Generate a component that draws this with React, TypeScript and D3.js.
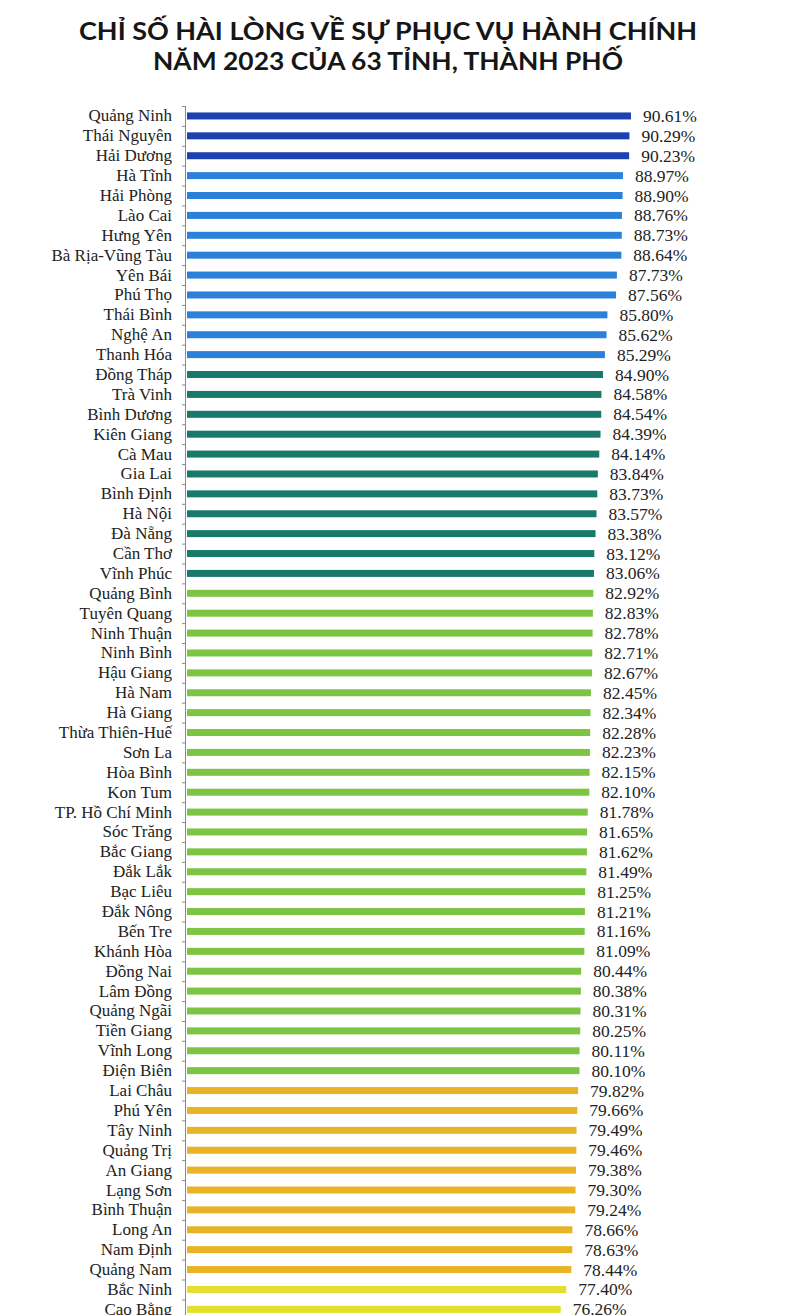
import React, { useRef, useEffect } from 'react';
import * as d3 from 'd3';

const provinces: string[] = [
  'Quảng Ninh', 'Thái Nguyên', 'Hải Dương', 'Hà Tĩnh', 'Hải Phòng', 'Lào Cai', 'Hưng Yên',
  'Bà Rịa-Vũng Tàu', 'Yên Bái', 'Phú Thọ', 'Thái Bình', 'Nghệ An', 'Thanh Hóa', 'Đồng Tháp',
  'Trà Vinh', 'Bình Dương', 'Kiên Giang', 'Cà Mau', 'Gia Lai', 'Bình Định', 'Hà Nội',
  'Đà Nẵng', 'Cần Thơ', 'Vĩnh Phúc', 'Quảng Bình', 'Tuyên Quang', 'Ninh Thuận', 'Ninh Bình',
  'Hậu Giang', 'Hà Nam', 'Hà Giang', 'Thừa Thiên-Huế', 'Sơn La', 'Hòa Bình', 'Kon Tum',
  'TP. Hồ Chí Minh', 'Sóc Trăng', 'Bắc Giang', 'Đắk Lắk', 'Bạc Liêu', 'Đắk Nông', 'Bến Tre',
  'Khánh Hòa', 'Đồng Nai', 'Lâm Đồng', 'Quảng Ngãi', 'Tiền Giang', 'Vĩnh Long', 'Điện Biên',
  'Lai Châu', 'Phú Yên', 'Tây Ninh', 'Quảng Trị', 'An Giang', 'Lạng Sơn', 'Bình Thuận',
  'Long An', 'Nam Định', 'Quảng Nam', 'Bắc Ninh', 'Cao Bằng',
];

const scores: number[] = [
  90.61, 90.29, 90.23, 88.97, 88.9, 88.76, 88.73, 88.64, 87.73, 87.56, 85.8, 85.62, 85.29,
  84.9, 84.58, 84.54, 84.39, 84.14, 83.84, 83.73, 83.57, 83.38, 83.12, 83.06, 82.92, 82.83,
  82.78, 82.71, 82.67, 82.45, 82.34, 82.28, 82.23, 82.15, 82.1, 81.78, 81.65, 81.62, 81.49,
  81.25, 81.21, 81.16, 81.09, 80.44, 80.38, 80.31, 80.25, 80.11, 80.1, 79.82, 79.66, 79.49,
  79.46, 79.38, 79.3, 79.24, 78.66, 78.63, 78.44, 77.4, 76.26,
];

// colour bands by score
const tierBreaks: number[] = [78, 80, 83, 85, 90];
const tierColors: string[] = ['#e3df2c', '#e8b324', '#7dc443', '#187a6b', '#2b80d9', '#1c41b0'];

const titleLines: string[] = [
  'CHỈ SỐ HÀI LÒNG VỀ SỰ PHỤC VỤ HÀNH CHÍNH',
  'NĂM 2023 CỦA 63 TỈNH, THÀNH PHỐ',
];

const App: React.FC = () => {
  const svgRef = useRef<SVGSVGElement | null>(null);

  useEffect(() => {
    const width = 800;
    const height = 1315;
    const x0 = 187;
    const top = 106;
    const step = 19.89;

    const svg = d3.select(svgRef.current);
    svg.selectAll('*').remove();
    svg.attr('width', width).attr('height', height);

    svg.append('rect').attr('width', width).attr('height', height).attr('fill', '#fff');

    const data = provinces.map((name, i) => ({ name, value: scores[i] }));

    const x = d3.scaleLinear().domain([0, 100]).range([x0, x0 + 490]);
    const y = d3
      .scaleBand()
      .domain(provinces)
      .range([top, top + step * provinces.length])
      .paddingInner(0);
    const color = d3.scaleThreshold<number, string>().domain(tierBreaks).range(tierColors);

    // title
    svg
      .selectAll('text.title')
      .data(titleLines)
      .enter()
      .append('text')
      .attr('class', 'title')
      .attr('x', 388)
      .attr('y', (d, i) => 40 + i * 29.5)
      .attr('text-anchor', 'middle')
      .attr('textLength', (d, i) => (i === 0 ? 618 : 470))
      .attr('lengthAdjust', 'spacingAndGlyphs')
      .style('font-family', 'Lato, "Open Sans", sans-serif')
      .style('font-weight', 'bold')
      .style('font-size', '24px')
      .style('fill', '#161616')
      .text((d) => d);

    // axis line + ticks on band edges
    const axis = svg.append('g').attr('stroke', '#8a8a8a').attr('stroke-width', 1);
    axis
      .append('line')
      .attr('x1', x0 - 1.5)
      .attr('x2', x0 - 1.5)
      .attr('y1', top)
      .attr('y2', height);
    axis
      .selectAll('line.tick')
      .data(provinces)
      .enter()
      .append('line')
      .attr('class', 'tick')
      .attr('x1', x0 - 5)
      .attr('x2', x0 - 1.5)
      .attr('y1', (d) => y(d)! + 0.5)
      .attr('y2', (d) => y(d)! + 0.5);

    const bh = 7;
    svg
      .selectAll('rect.bar')
      .data(data)
      .enter()
      .append('rect')
      .attr('class', 'bar')
      .attr('x', x(0))
      .attr('y', (d) => y(d.name)! + y.bandwidth() / 2 - bh / 2)
      .attr('width', (d) => x(d.value) - x(0))
      .attr('height', bh)
      .attr('fill', (d) => color(d.value));

    svg
      .selectAll('text.name')
      .data(data)
      .enter()
      .append('text')
      .attr('class', 'name')
      .attr('x', 172)
      .attr('y', (d) => y(d.name)! + y.bandwidth() / 2 + 5.5)
      .attr('text-anchor', 'end')
      .style('font-family', '"Liberation Serif", "Times New Roman", serif')
      .style('font-size', '17px')
      .style('fill', '#222')
      .text((d) => d.name);

    svg
      .selectAll('text.value')
      .data(data)
      .enter()
      .append('text')
      .attr('class', 'value')
      .attr('x', (d) => x(d.value) + 12)
      .attr('y', (d) => y(d.name)! + y.bandwidth() / 2 + 6)
      .style('font-family', '"Liberation Serif", "Times New Roman", serif')
      .style('font-size', '17.5px')
      .style('fill', '#222')
      .text((d) => `${d.value.toFixed(2)}%`);
  }, []);

  return (
    <svg
      ref={svgRef}
      style={{ position: 'absolute', left: 0, top: 0, display: 'block' }}
    ></svg>
  );
};

export default App;
